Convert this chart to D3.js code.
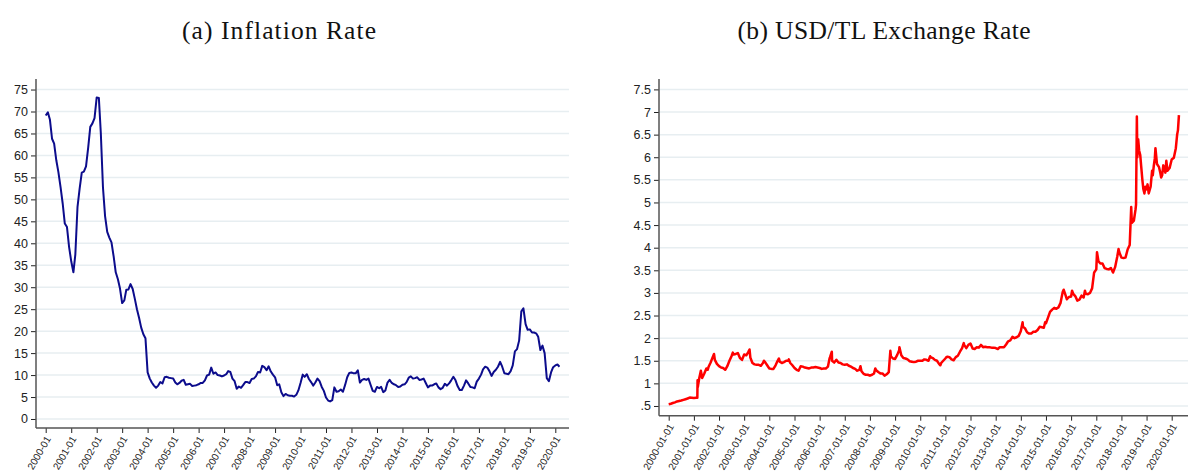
<!DOCTYPE html>
<html>
<head>
<meta charset="utf-8">
<script src="https://cdn.jsdelivr.net/npm/d3@7"></script>
<style>
  html, body { margin: 0; padding: 0; background: #fff; }
  svg { display: block; }
</style>
</head>
<body>
<svg id="chart" width="1188" height="471"></svg>
<script>
// ---------------- DATA ----------------
const titles = ["(a) Inflation Rate", "(b) USD/TL Exchange Rate"];

// Monthly annual CPI inflation (%), starting 2000-01
const inflationStart = "2000-01";
const inflation = [
  69.1, 69.8, 68.2, 63.8, 62.7, 58.9, 56.2, 52.8, 49.0, 44.5, 43.7, 39.2,   // 2000
  35.9, 33.4, 37.5, 48.3, 52.4, 56.1, 56.3, 57.5, 61.8, 66.5, 67.3, 68.5,   // 2001
  73.2, 73.1, 65.1, 52.7, 46.2, 42.6, 41.3, 40.2, 37.0, 33.4, 31.8, 29.7,   // 2002
  26.4, 27.0, 29.4, 29.5, 30.7, 29.6, 27.4, 25.0, 23.0, 20.8, 19.3, 18.4,   // 2003
  10.6, 9.2, 8.3, 7.6, 7.1, 7.6, 8.4, 8.1, 9.5, 9.6, 9.4, 9.3,              // 2004
  9.2, 8.3, 7.9, 8.2, 8.7, 8.9, 7.8, 7.9, 8.0, 7.5, 7.6, 7.7,               // 2005
  7.9, 8.2, 8.2, 8.8, 9.9, 10.1, 11.7, 10.3, 10.6, 10.0, 9.9, 9.7,          // 2006
  9.9, 10.2, 10.9, 10.7, 9.2, 8.6, 6.9, 7.4, 7.1, 7.7, 8.4, 8.4,            // 2007
  8.2, 9.1, 9.2, 9.7, 10.7, 10.6, 12.1, 11.8, 11.1, 12.0, 10.8, 10.1,       // 2008
  9.5, 7.7, 7.9, 6.1, 5.2, 5.7, 5.4, 5.3, 5.3, 5.1, 5.5, 6.5,               // 2009
  8.2, 10.1, 9.6, 10.2, 9.1, 8.4, 7.6, 8.3, 9.2, 8.6, 7.3, 6.4,             // 2010
  4.9, 4.2, 4.0, 4.3, 7.2, 6.2, 6.3, 6.7, 6.2, 7.7, 9.5, 10.5,              // 2011
  10.6, 10.4, 10.4, 11.1, 8.3, 8.9, 9.1, 8.9, 9.2, 7.8, 6.4, 6.2,           // 2012
  7.3, 7.0, 7.3, 6.1, 6.5, 8.3, 8.9, 8.2, 7.9, 7.7, 7.3, 7.4,               // 2013
  7.8, 7.9, 8.4, 9.4, 9.7, 9.2, 9.3, 9.5, 8.9, 9.0, 9.2, 8.2,               // 2014
  7.2, 7.6, 7.6, 7.9, 8.1, 7.2, 6.8, 7.1, 8.0, 7.6, 8.1, 8.8,               // 2015
  9.6, 8.8, 7.5, 6.6, 6.6, 7.6, 8.8, 8.1, 7.3, 7.2, 7.0, 8.5,               // 2016
  9.2, 10.1, 11.3, 11.9, 11.7, 10.9, 9.8, 10.7, 11.2, 11.9, 13.0, 11.9,     // 2017
  10.4, 10.3, 10.2, 10.9, 12.2, 15.4, 15.9, 17.9, 24.5, 25.2, 21.6, 20.3,   // 2018
  20.4, 19.7, 19.7, 19.5, 18.7, 15.7, 16.7, 15.0, 9.3, 8.6, 10.6, 11.8,     // 2019
  12.2, 12.4, 11.9                                                            // 2020
];
const inflationTicks = d3.range(0, 80, 5);
const inflationYears = d3.range(2000, 2021);

// USD/TL exchange rate (date, TL per USD)
const usdtl = [
  ["2000-01-01",0.54],["2000-02-01",0.55],["2000-03-01",0.565],["2000-04-01",0.58],["2000-05-01",0.60],["2000-06-01",0.61],
  ["2000-07-01",0.62],["2000-08-01",0.635],["2000-09-01",0.65],["2000-10-01",0.665],["2000-11-01",0.685],["2000-12-01",0.68],
  ["2001-01-01",0.675],["2001-02-01",0.68],["2001-02-20",0.68],["2001-02-23",1.07],["2001-02-27",0.92],["2001-03-05",0.98],
  ["2001-03-20",1.12],["2001-04-01",1.20],["2001-04-12",1.28],["2001-05-01",1.12],["2001-06-01",1.22],["2001-07-01",1.33],
  ["2001-07-20",1.30],["2001-08-01",1.36],["2001-09-01",1.46],["2001-10-01",1.58],["2001-10-20",1.65],["2001-11-01",1.52],
  ["2001-12-01",1.43],["2002-01-01",1.38],["2002-02-01",1.35],["2002-03-01",1.34],["2002-04-01",1.30],["2002-05-01",1.38],
  ["2002-06-01",1.50],["2002-07-01",1.60],["2002-07-20",1.68],["2002-08-01",1.64],["2002-09-01",1.65],["2002-10-01",1.67],
  ["2002-11-01",1.56],["2002-12-01",1.52],["2003-01-01",1.64],["2003-02-01",1.62],["2003-03-01",1.69],["2003-03-20",1.75],
  ["2003-04-01",1.57],["2003-05-01",1.45],["2003-06-01",1.42],["2003-07-01",1.41],["2003-08-01",1.41],["2003-09-01",1.39],
  ["2003-10-01",1.45],["2003-10-15",1.50],["2003-11-01",1.47],["2003-12-01",1.40],["2004-01-01",1.33],["2004-02-01",1.32],
  ["2004-03-01",1.32],["2004-04-01",1.40],["2004-05-01",1.50],["2004-05-20",1.55],["2004-06-01",1.48],["2004-07-01",1.45],
  ["2004-08-01",1.47],["2004-09-01",1.50],["2004-10-01",1.50],["2004-10-10",1.53],["2004-11-01",1.45],["2004-12-01",1.40],
  ["2005-01-01",1.34],["2005-02-01",1.30],["2005-03-01",1.28],["2005-04-01",1.38],["2005-05-01",1.37],["2005-06-01",1.35],
  ["2005-07-01",1.34],["2005-08-01",1.33],["2005-09-01",1.35],["2005-10-01",1.35],["2005-11-01",1.36],["2005-12-01",1.35],
  ["2006-01-01",1.34],["2006-02-01",1.32],["2006-03-01",1.33],["2006-04-01",1.33],["2006-05-01",1.37],["2006-05-25",1.55],
  ["2006-06-01",1.58],["2006-06-27",1.70],["2006-07-01",1.50],["2006-08-01",1.46],["2006-09-01",1.52],["2006-10-01",1.46],
  ["2006-11-01",1.45],["2006-12-01",1.42],["2007-01-01",1.41],["2007-02-01",1.42],["2007-03-01",1.39],["2007-04-01",1.37],
  ["2007-05-01",1.34],["2007-06-01",1.32],["2007-07-01",1.28],["2007-08-01",1.30],["2007-08-17",1.38],["2007-09-01",1.27],
  ["2007-10-01",1.21],["2007-11-01",1.19],["2007-12-01",1.19],["2008-01-01",1.17],["2008-02-01",1.19],["2008-03-01",1.22],
  ["2008-03-20",1.33],["2008-04-01",1.29],["2008-05-01",1.25],["2008-06-01",1.22],["2008-07-01",1.22],["2008-08-01",1.17],
  ["2008-09-01",1.20],["2008-10-01",1.25],["2008-10-24",1.72],["2008-11-01",1.60],["2008-12-01",1.55],["2009-01-01",1.54],
  ["2009-02-01",1.63],["2009-03-01",1.73],["2009-03-05",1.80],["2009-04-01",1.62],["2009-05-01",1.56],["2009-06-01",1.55],
  ["2009-07-01",1.53],["2009-08-01",1.49],["2009-09-01",1.48],["2009-10-01",1.47],["2009-11-01",1.48],["2009-12-01",1.50],
  ["2010-01-01",1.50],["2010-02-01",1.50],["2010-03-01",1.53],["2010-04-01",1.52],["2010-05-01",1.50],["2010-05-25",1.60],
  ["2010-06-01",1.58],["2010-07-01",1.56],["2010-08-01",1.52],["2010-09-01",1.50],["2010-10-01",1.43],["2010-10-20",1.40],
  ["2010-11-01",1.45],["2010-12-01",1.50],["2011-01-01",1.55],["2011-01-15",1.58],["2011-02-01",1.59],["2011-03-01",1.58],
  ["2011-04-01",1.53],["2011-05-01",1.51],["2011-06-01",1.58],["2011-07-01",1.61],["2011-08-01",1.70],["2011-09-01",1.78],
  ["2011-09-25",1.89],["2011-10-01",1.85],["2011-11-01",1.78],["2011-12-01",1.85],["2012-01-01",1.88],["2012-02-01",1.77],
  ["2012-03-01",1.76],["2012-04-01",1.80],["2012-05-01",1.79],["2012-06-01",1.85],["2012-07-01",1.80],["2012-08-01",1.81],
  ["2012-09-01",1.80],["2012-10-01",1.80],["2012-11-01",1.79],["2012-12-01",1.79],["2013-01-01",1.78],["2013-02-01",1.76],
  ["2013-03-01",1.80],["2013-04-01",1.80],["2013-05-01",1.80],["2013-06-01",1.86],["2013-07-01",1.93],["2013-08-01",1.95],
  ["2013-09-01",2.03],["2013-10-01",2.00],["2013-11-01",2.02],["2013-12-01",2.05],["2013-12-31",2.15],["2014-01-27",2.35],
  ["2014-02-01",2.25],["2014-03-01",2.22],["2014-04-01",2.13],["2014-05-01",2.10],["2014-06-01",2.10],["2014-07-01",2.14],
  ["2014-08-01",2.14],["2014-09-01",2.18],["2014-10-01",2.25],["2014-11-01",2.24],["2014-12-01",2.23],["2014-12-20",2.35],
  ["2015-01-01",2.33],["2015-02-01",2.46],["2015-03-01",2.58],["2015-04-01",2.63],["2015-05-01",2.67],["2015-06-01",2.65],
  ["2015-07-01",2.68],["2015-08-01",2.78],["2015-09-01",3.02],["2015-09-15",3.07],["2015-10-01",3.00],["2015-11-01",2.86],
  ["2015-12-01",2.91],["2016-01-01",2.92],["2016-01-15",3.05],["2016-02-01",2.98],["2016-03-01",2.93],["2016-04-01",2.83],
  ["2016-05-01",2.85],["2016-06-01",2.94],["2016-07-01",2.90],["2016-07-20",3.05],["2016-08-01",2.98],["2016-09-01",2.97],
  ["2016-10-01",3.00],["2016-11-01",3.10],["2016-11-30",3.45],["2016-12-01",3.45],["2017-01-01",3.52],["2017-01-11",3.90],
  ["2017-02-01",3.70],["2017-03-01",3.65],["2017-04-01",3.65],["2017-05-01",3.55],["2017-06-01",3.53],["2017-07-01",3.52],
  ["2017-08-01",3.55],["2017-09-01",3.45],["2017-10-01",3.57],["2017-11-01",3.80],["2017-11-20",3.97],["2017-12-01",3.90],
  ["2018-01-01",3.78],["2018-02-01",3.77],["2018-03-01",3.78],["2018-04-01",3.96],["2018-05-01",4.06],["2018-05-23",4.90],
  ["2018-06-01",4.55],["2018-07-01",4.60],["2018-07-25",4.85],["2018-08-01",4.95],["2018-08-13",6.90],["2018-08-20",6.00],
  ["2018-09-01",6.40],["2018-09-15",6.15],["2018-10-01",6.05],["2018-10-15",5.80],["2018-11-01",5.50],["2018-11-15",5.30],
  ["2018-12-01",5.20],["2018-12-15",5.35],["2019-01-01",5.29],["2019-01-15",5.40],["2019-02-01",5.20],["2019-03-01",5.35],
  ["2019-03-22",5.70],["2019-04-01",5.60],["2019-04-15",5.80],["2019-05-01",5.98],["2019-05-10",6.20],["2019-06-01",5.85],
  ["2019-07-01",5.78],["2019-07-20",5.65],["2019-08-01",5.55],["2019-08-15",5.60],["2019-09-01",5.82],["2019-10-01",5.66],
  ["2019-10-15",5.92],["2019-11-01",5.70],["2019-12-01",5.76],["2020-01-01",5.95],["2020-02-01",5.99],["2020-03-01",6.20],
  ["2020-03-20",6.50],["2020-04-01",6.60],["2020-04-15",6.93]
];
const usdtlTicks = d3.range(0.5, 7.51, 0.5);
const usdtlYears = d3.range(2000, 2021);

// ---------------- DRAW ----------------
const svg = d3.select("#chart");
const parseMonth = d3.timeParse("%Y-%m");
const parseDay = d3.timeParse("%Y-%m-%d");
const labelFont = "'Liberation Sans', Arial, Helvetica, sans-serif";
const titleFont = "'Palatino Linotype', 'Book Antiqua', Palatino, 'Liberation Serif', serif";
const gridColor = "#e7eef1";
const axisColor = "#555";

svg.append("text")
  .attr("x", 279).attr("y", 39)
  .attr("text-anchor", "middle")
  .attr("font-family", titleFont)
  .attr("font-size", 25.5).attr("fill", "#111")
  .attr("textLength", 194).attr("lengthAdjust", "spacing")
  .text(titles[0]);
svg.append("text")
  .attr("x", 884).attr("y", 39)
  .attr("text-anchor", "middle")
  .attr("font-family", titleFont)
  .attr("font-size", 25.5).attr("fill", "#111")
  .attr("textLength", 293).attr("lengthAdjust", "spacing")
  .text(titles[1]);

function panel(opts) {
  const g = svg.append("g");
  const {x, y, left, right, top, bottom, yTicks, yFmt, xTickDates, xFmt} = opts;

  // grid
  g.append("g").selectAll("line").data(yTicks).join("line")
    .attr("x1", left + 1).attr("x2", right)
    .attr("y1", d => y(d)).attr("y2", d => y(d))
    .attr("stroke", gridColor).attr("stroke-width", 1.5);

  // y axis
  const ya = g.append("g").attr("transform", `translate(${left},0)`)
    .call(d3.axisLeft(y).tickValues(yTicks).tickFormat(yFmt).tickSize(5).tickPadding(3));
  ya.select(".domain").remove();
  ya.selectAll(".tick line").attr("stroke", "#222");
  ya.selectAll(".tick text").attr("font-family", labelFont).attr("font-size", 12.5).attr("fill", "#222");

  // x axis
  const xa = g.append("g").attr("transform", `translate(0,${bottom})`)
    .call(d3.axisBottom(x).tickValues(xTickDates).tickFormat(xFmt).tickSize(5));
  xa.select(".domain").remove();
  xa.selectAll(".tick line").attr("stroke", "#222");
  xa.selectAll(".tick text")
    .attr("font-family", labelFont).attr("font-size", 10).attr("fill", "#222")
    .attr("text-anchor", "end")
    .attr("x", 0).attr("y", 0).attr("dy", "0.35em")
    .attr("transform", "translate(2,9) rotate(-60)");

  // axis lines
  g.append("line").attr("x1", left).attr("x2", left).attr("y1", top).attr("y2", bottom)
    .attr("stroke", axisColor).attr("stroke-width", 1.5);
  g.append("line").attr("x1", left).attr("x2", right).attr("y1", bottom).attr("y2", bottom)
    .attr("stroke", axisColor).attr("stroke-width", 1.5);
  return g;
}

// Panel (a)
const t0 = parseMonth(inflationStart);
const infData = inflation.map((v, i) => ({date: d3.timeMonth.offset(t0, i), value: v}));
const xA = d3.scaleTime()
  .domain([parseMonth("2000-01"), parseMonth("2020-01")])
  .range([45.7, 555.3]);
const yA = d3.scaleLinear().domain([-2.05, 77.4]).range([428, 79]);
const gA = panel({
  x: xA, y: yA, left: 36, right: 569, top: 79, bottom: 428,
  yTicks: inflationTicks, yFmt: d3.format("d"),
  xTickDates: inflationYears.map(yr => new Date(yr, 0, 1)),
  xFmt: d3.timeFormat("%Y-%m")
});
gA.append("path").datum(infData)
  .attr("fill", "none").attr("stroke", "#0c0c8c").attr("stroke-width", 2)
  .attr("stroke-linejoin", "round")
  .attr("d", d3.line().x(d => xA(d.date)).y(d => yA(d.value)));

// Panel (b)
const fxData = usdtl.map(([d, v]) => ({date: parseDay(d), value: v}));
const xB = d3.scaleTime()
  .domain([parseDay("2000-01-01"), parseDay("2020-01-01")])
  .range([668.7, 1171.7]);
const yB = d3.scaleLinear().domain([0.285, 7.73]).range([415.7, 79]);
const fmtB = v => (v < 1 ? d3.format(".1f")(v).replace(/^0/, "") : d3.format("~g")(v));
const gB = panel({
  x: xB, y: yB, left: 659, right: 1188, top: 79, bottom: 415.7,
  yTicks: usdtlTicks, yFmt: fmtB,
  xTickDates: usdtlYears.map(yr => new Date(yr, 0, 1)),
  xFmt: d3.timeFormat("%Y-%m-%d")
});
gB.append("path").datum(fxData)
  .attr("fill", "none").attr("stroke", "#ff0000").attr("stroke-width", 2.5)
  .attr("stroke-linejoin", "round")
  .attr("d", d3.line().x(d => xB(d.date)).y(d => yB(d.value)));
</script>
</body>
</html>
